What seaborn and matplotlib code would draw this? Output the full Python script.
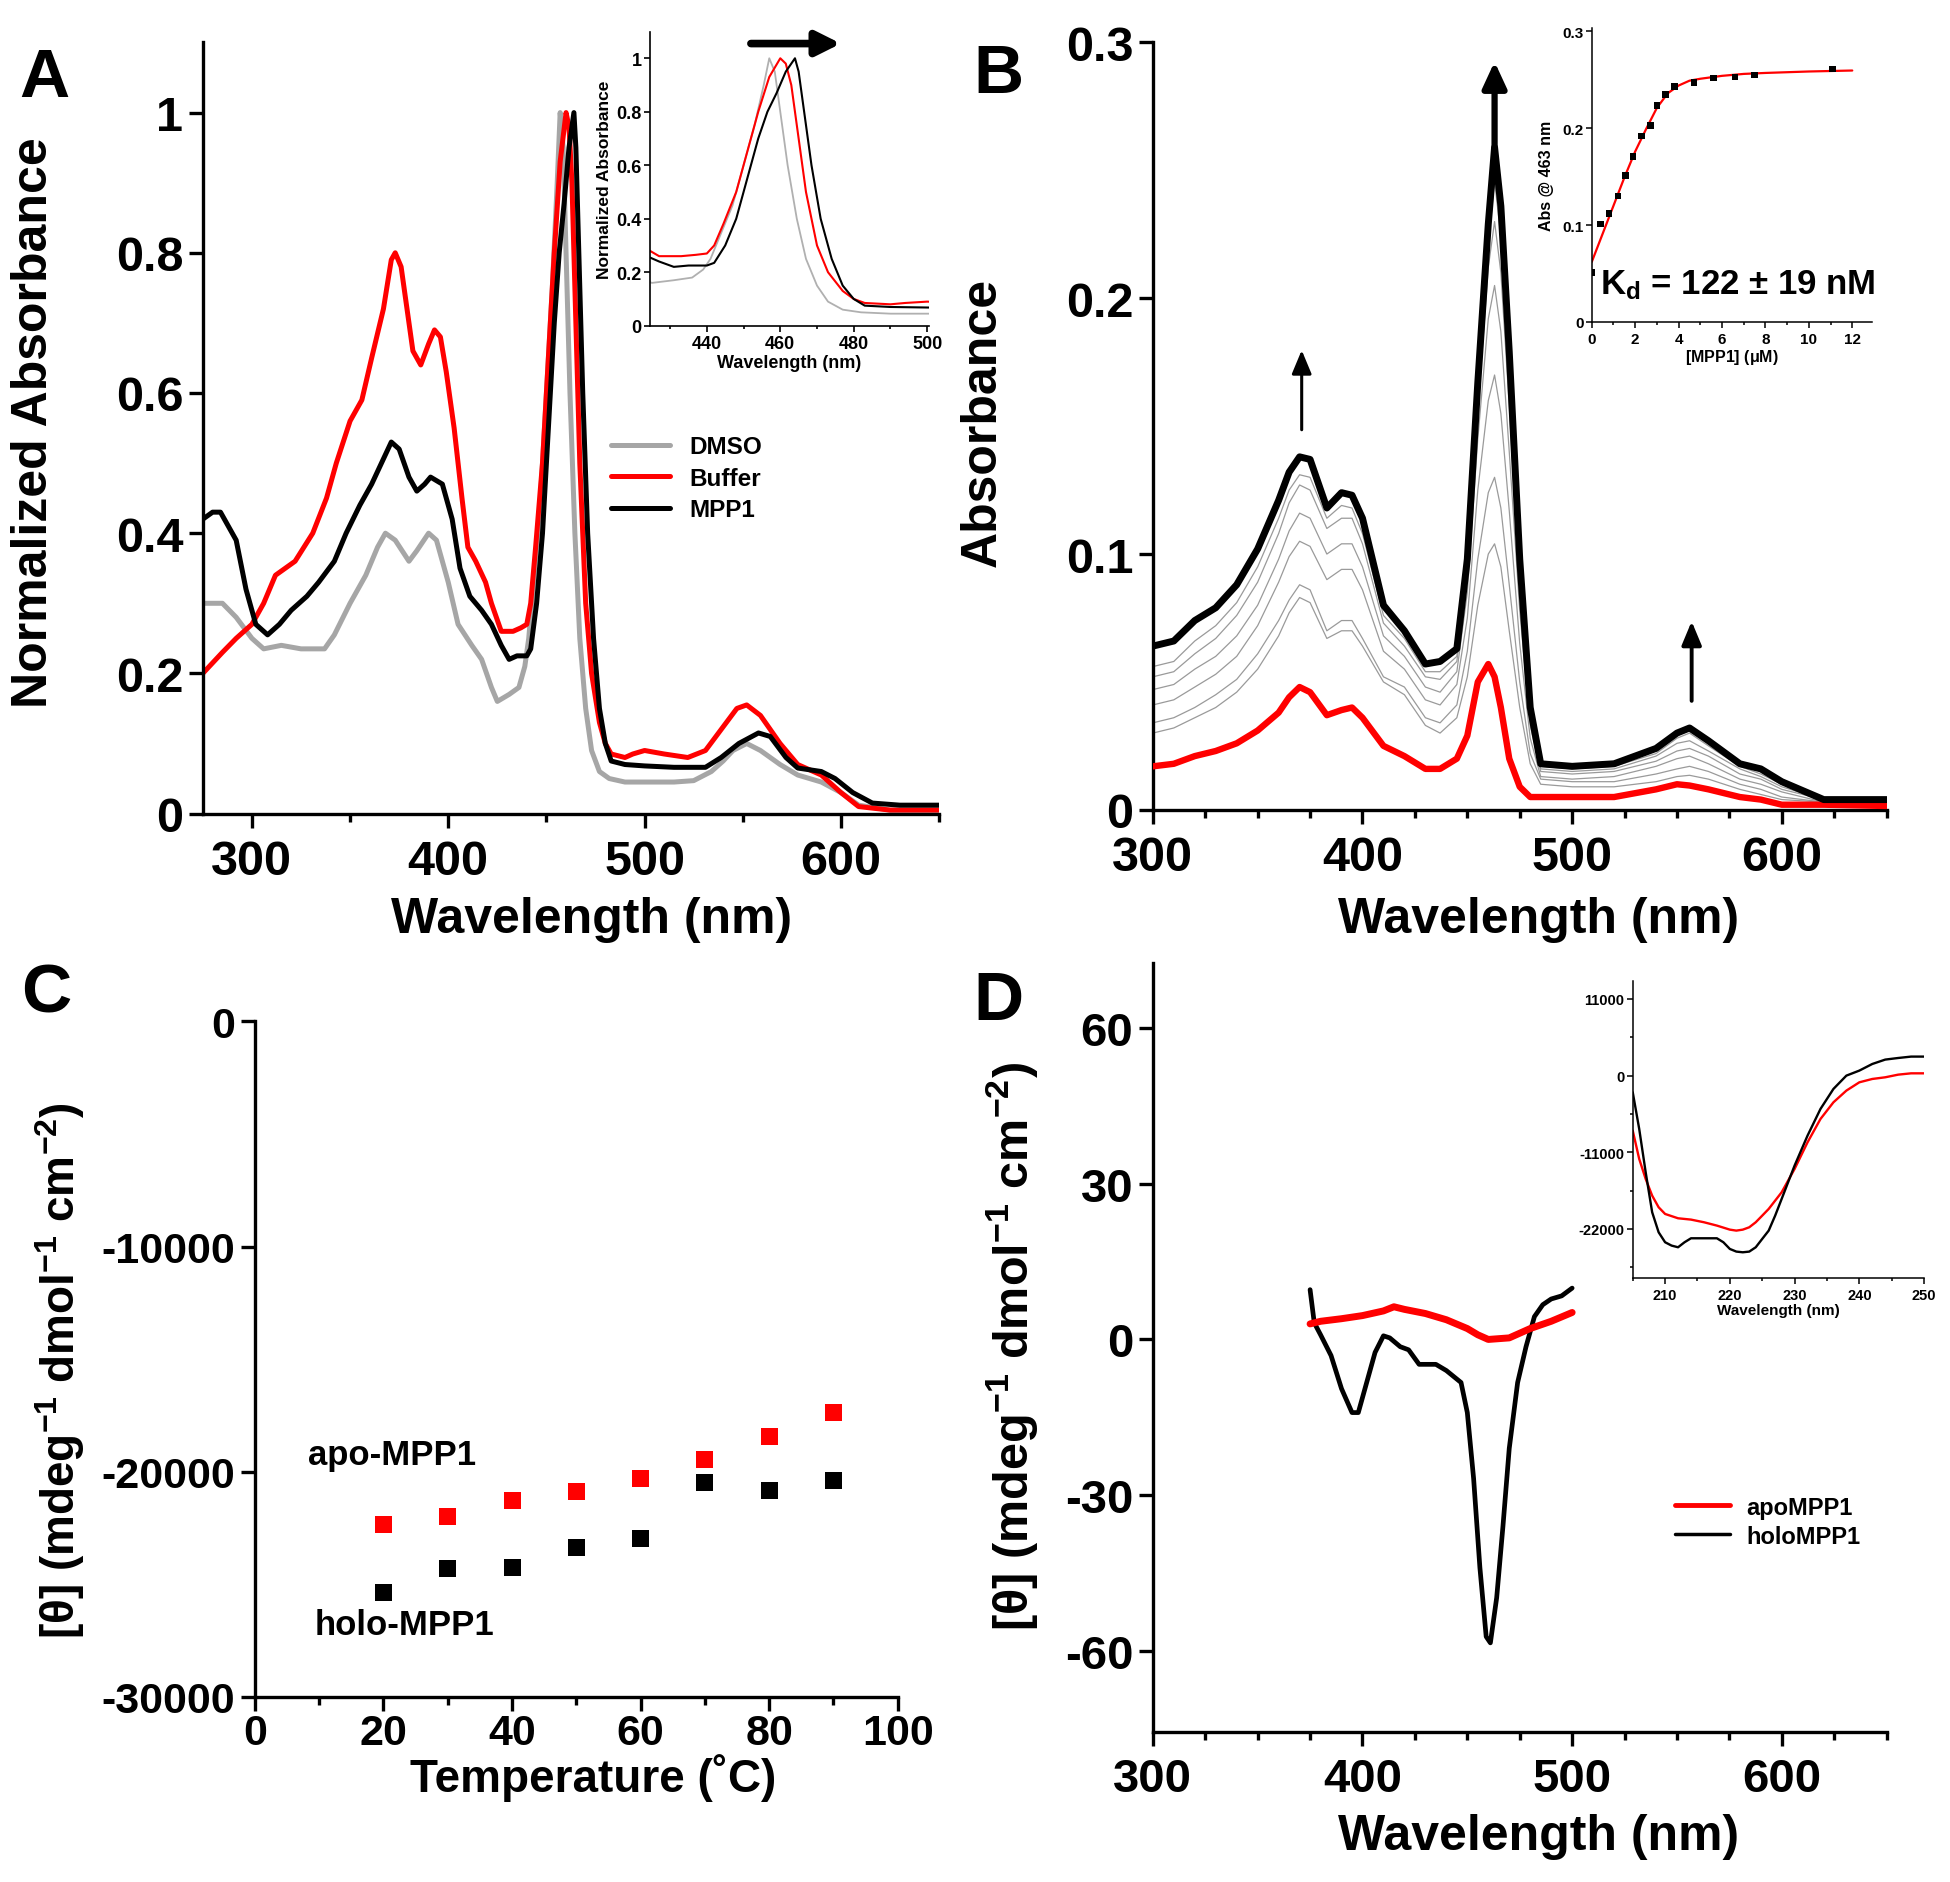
import numpy as np
import pandas as pd
import matplotlib
matplotlib.use('Agg')
import matplotlib.pyplot as plt
import seaborn as sns
from matplotlib.ticker import MultipleLocator, FixedLocator, FixedFormatter, NullLocator
from matplotlib.lines import Line2D

# ---------------- DATA ----------------
# Panel A: normalized absorbance spectra
A_wl_dmso = [275, 285, 292, 300, 306, 315, 325, 337, 342, 350, 358, 364, 368, 373, 380, 384, 390, 394, 400, 405,
             412, 417, 422, 425, 431, 436, 439, 441, 444, 447, 450, 453, 455.5, 457, 458.5, 460, 462, 464.5, 467, 470,
             473, 477, 482, 490, 500, 515, 525, 534, 540, 545, 552, 559, 565, 569, 578, 590, 600, 609, 625, 650]
A_dmso = [0.30, 0.30, 0.28, 0.25, 0.235, 0.24, 0.235, 0.235, 0.255, 0.30, 0.34, 0.38, 0.40, 0.39, 0.36, 0.375, 0.40, 0.39, 0.33, 0.27,
          0.24, 0.22, 0.18, 0.16, 0.17, 0.18, 0.21, 0.25, 0.35, 0.45, 0.60, 0.75, 0.90, 1.0, 0.95, 0.80, 0.60, 0.40, 0.25, 0.15,
          0.09, 0.06, 0.05, 0.045, 0.045, 0.045, 0.047, 0.06, 0.075, 0.09, 0.10, 0.09, 0.078, 0.07, 0.055, 0.045, 0.03, 0.012, 0.005, 0.005]

A_wl_buf = [275, 285, 292, 300, 306, 312, 322, 331, 338, 343, 350, 356, 361, 367, 371, 373, 376, 379, 382, 386,
            390, 393, 396, 399, 403, 407, 410, 414, 419, 422, 427, 433, 437, 440, 442, 444.5, 448, 451, 454, 457,
            460, 461.5, 463, 465, 467, 470, 473, 477, 480, 483, 490, 494, 500, 510, 522, 531, 539, 547, 552, 559,
            569, 578, 590, 600, 609, 625, 650]
A_buf = [0.20, 0.23, 0.25, 0.27, 0.30, 0.34, 0.36, 0.40, 0.45, 0.50, 0.56, 0.59, 0.65, 0.72, 0.79, 0.80, 0.78, 0.72, 0.66, 0.64,
         0.67, 0.69, 0.68, 0.63, 0.55, 0.45, 0.38, 0.36, 0.33, 0.30, 0.26, 0.26, 0.265, 0.27, 0.30, 0.38, 0.50, 0.65, 0.80, 0.93,
         1.0, 0.98, 0.90, 0.70, 0.50, 0.30, 0.20, 0.13, 0.10, 0.085, 0.08, 0.085, 0.09, 0.085, 0.08, 0.09, 0.12, 0.15, 0.155, 0.14,
         0.10, 0.07, 0.055, 0.03, 0.01, 0.005, 0.005]

A_wl_mpp = [275, 280, 284, 288, 292, 297, 302, 308, 314, 320, 328, 334, 342, 348, 355, 361, 366, 371, 375, 380,
            384, 388, 391, 394, 397, 402, 406, 411, 417, 422, 427, 431, 435, 440, 442, 445, 448, 451, 454, 456.5,
            459, 461.5, 464, 465, 466.5, 468.5, 471, 474, 477, 480, 483, 490, 500, 515, 531, 539, 548, 558, 564, 572,
            578, 590, 597, 606, 616, 630, 650]
A_mpp = [0.42, 0.43, 0.43, 0.41, 0.39, 0.32, 0.27, 0.255, 0.27, 0.29, 0.31, 0.33, 0.36, 0.40, 0.44, 0.47, 0.50, 0.53, 0.52, 0.48,
         0.46, 0.47, 0.48, 0.475, 0.47, 0.42, 0.35, 0.31, 0.29, 0.27, 0.24, 0.22, 0.225, 0.225, 0.235, 0.30, 0.40, 0.55, 0.70, 0.80,
         0.87, 0.95, 1.0, 0.95, 0.80, 0.60, 0.40, 0.25, 0.15, 0.10, 0.075, 0.07, 0.068, 0.066, 0.066, 0.08, 0.10, 0.115, 0.11, 0.08,
         0.065, 0.06, 0.05, 0.03, 0.015, 0.012, 0.012]

A_series = ["DMSO", "Buffer", "MPP1"]

# Panel B: titration spectra
B_wl = [300, 310, 320, 330, 340, 350, 360, 365, 370, 375, 383, 390, 395, 400, 410, 420, 430, 437, 445, 450,
        455, 460, 463, 466, 470, 475, 480, 485, 500, 520, 540, 550, 556, 565, 580, 590, 600, 620, 650]
B_black = [0.064, 0.066, 0.074, 0.079, 0.088, 0.102, 0.121, 0.132, 0.138, 0.137, 0.118, 0.124, 0.123, 0.114, 0.080, 0.070, 0.057, 0.058, 0.063, 0.098,
           0.167, 0.229, 0.259, 0.236, 0.179, 0.098, 0.040, 0.018, 0.017, 0.018, 0.024, 0.030, 0.032, 0.027, 0.018, 0.016, 0.011, 0.004, 0.004]
B_red = [0.017, 0.018, 0.021, 0.023, 0.026, 0.031, 0.038, 0.044, 0.048, 0.046, 0.037, 0.039, 0.040, 0.036, 0.025, 0.021, 0.016, 0.016, 0.020, 0.029,
         0.050, 0.057, 0.052, 0.040, 0.020, 0.009, 0.005, 0.005, 0.005, 0.005, 0.008, 0.010, 0.0095, 0.008, 0.005, 0.004, 0.002, 0.002, 0.0015]
B_grey1 = [0.030, 0.032, 0.036, 0.040, 0.046, 0.055, 0.068, 0.077, 0.083, 0.081, 0.067, 0.070, 0.070, 0.064, 0.050, 0.045, 0.033, 0.030, 0.036, 0.052,
           0.080, 0.100, 0.104, 0.095, 0.070, 0.040, 0.018, 0.010, 0.009, 0.009, 0.011, 0.013, 0.0135, 0.012, 0.008, 0.006, 0.004, 0.003, 0.002]
B_grey2 = [0.034, 0.036, 0.040, 0.045, 0.051, 0.061, 0.074, 0.082, 0.088, 0.086, 0.070, 0.074, 0.074, 0.067, 0.052, 0.048, 0.036, 0.034, 0.041, 0.062,
           0.098, 0.124, 0.130, 0.118, 0.088, 0.050, 0.022, 0.012, 0.011, 0.011, 0.014, 0.016, 0.017, 0.015, 0.010, 0.008, 0.005, 0.003, 0.002]
B_grey3 = [0.041, 0.043, 0.048, 0.053, 0.060, 0.072, 0.089, 0.099, 0.105, 0.103, 0.090, 0.094, 0.094, 0.086, 0.062, 0.055, 0.043, 0.041, 0.049, 0.075,
           0.125, 0.160, 0.170, 0.155, 0.117, 0.065, 0.028, 0.013, 0.012, 0.013, 0.017, 0.020, 0.021, 0.018, 0.012, 0.010, 0.007, 0.003, 0.003]
B_grey4 = [0.047, 0.049, 0.055, 0.060, 0.068, 0.080, 0.098, 0.109, 0.116, 0.114, 0.100, 0.104, 0.104, 0.095, 0.068, 0.060, 0.048, 0.046, 0.054, 0.085,
           0.145, 0.192, 0.205, 0.187, 0.140, 0.078, 0.033, 0.015, 0.014, 0.015, 0.019, 0.023, 0.024, 0.021, 0.014, 0.012, 0.008, 0.004, 0.003]
B_grey5 = [0.052, 0.054, 0.061, 0.067, 0.076, 0.089, 0.108, 0.120, 0.127, 0.125, 0.110, 0.114, 0.114, 0.104, 0.073, 0.064, 0.052, 0.051, 0.058, 0.091,
           0.156, 0.212, 0.230, 0.210, 0.158, 0.087, 0.036, 0.016, 0.015, 0.016, 0.021, 0.026, 0.027, 0.023, 0.016, 0.013, 0.009, 0.004, 0.003]
B_grey6 = [0.056, 0.058, 0.066, 0.072, 0.081, 0.095, 0.114, 0.125, 0.131, 0.130, 0.114, 0.119, 0.118, 0.108, 0.076, 0.067, 0.054, 0.054, 0.060, 0.094,
           0.161, 0.221, 0.246, 0.224, 0.170, 0.093, 0.038, 0.017, 0.016, 0.017, 0.022, 0.028, 0.030, 0.025, 0.017, 0.014, 0.010, 0.004, 0.003]

# Panel B inset: binding curve
B_conc = [0, 0.4, 0.8, 1.2, 1.55, 1.9, 2.3, 2.7, 3.0, 3.4, 3.8, 4.7, 5.6, 6.6, 7.5, 11.1]
B_abs463 = [0.051, 0.101, 0.112, 0.130, 0.151, 0.171, 0.192, 0.203, 0.2235, 0.2347, 0.243, 0.247, 0.252, 0.253, 0.255, 0.261]
B_fit_x = [0, 0.5, 1, 1.5, 2, 2.5, 3, 3.5, 4, 4.5, 5, 6, 7, 8, 10, 12]
B_fit_y = [0.062, 0.091, 0.120, 0.149, 0.176, 0.199, 0.221, 0.236, 0.244, 0.249, 0.251, 0.254, 0.256, 0.257, 0.2585, 0.2595]

# Panel C: thermal melt
C_temp = [20, 30, 40, 50, 60, 70, 80, 90]
C_apo = [-22330, -22000, -21270, -20880, -20300, -19450, -18450, -17360]
C_holo = [-25370, -24320, -24250, -23390, -22990, -20500, -20850, -20380]

# Panel D: visible CD
D_wl_apo = [375, 380, 390, 400, 410, 415, 420, 430, 440, 450, 455, 460, 470, 480, 490, 500]
D_apo = [3.0, 3.5, 4.0, 4.6, 5.5, 6.3, 5.8, 5.0, 3.8, 2.1, 0.9, 0.0, 0.3, 2.1, 3.5, 5.2]
D_wl_holo = [375, 377, 380, 385, 390, 395, 398, 402, 406, 410, 413, 418, 422, 427, 435, 440, 447, 450, 453, 456,
             459, 461, 464, 467, 470, 474, 478, 482, 486, 490, 495, 500]
D_holo = [9.6, 3.2, 0.9, -3.1, -9.5, -14.1, -14.1, -8.3, -2.5, 0.7, 0.3, -1.4, -2.0, -4.8, -4.8, -6.0, -8.3, -14.1, -26.8, -44.0,
          -57.3, -58.5, -49.8, -36.0, -21.0, -8.3, -1.4, 4.4, 6.7, 7.8, 8.4, 9.9]

# Panel D inset: far-UV CD
Di_wl_holo = [205, 206, 207, 208, 209, 210, 211, 212, 213, 214, 216, 218, 219, 220, 221, 222, 223, 224, 225, 226,
              227, 228, 229, 230, 232, 234, 236, 238, 240, 242, 244, 246, 248, 250]
Di_holo = [-2390, -7650, -13870, -19600, -22480, -23910, -24390, -24630, -23910, -23340, -23340, -23340, -23910, -24870, -25250, -25350, -25250, -24630, -23430, -22240,
           -20090, -17700, -15300, -12910, -8610, -4780, -1910, 0, 720, 1670, 2300, 2530, 2730, 2730]
Di_wl_apo = [205, 206, 207, 208, 209, 210, 212, 214, 216, 218, 220, 221, 222, 223, 224, 225, 226, 228, 230, 232,
             234, 236, 238, 240, 242, 244, 246, 248, 250]
Di_apo = [-7890, -11960, -14830, -17220, -18890, -19850, -20470, -20660, -21040, -21520, -22100, -22240, -22100, -21760, -21040, -20090, -19130, -16740, -13390, -9570,
          -6220, -3830, -2150, -960, -480, -240, 140, 330, 330]

# ---------------- STYLE ----------------
sns.set_theme(style='ticks')
plt.rcParams['font.family'] = ['Liberation Sans', 'DejaVu Sans']
plt.rcParams['font.weight'] = 'bold'
plt.rcParams['axes.unicode_minus'] = False
plt.rcParams['mathtext.default'] = 'regular'
plt.rcParams['text.color'] = 'black'
plt.rcParams['axes.labelcolor'] = 'black'
plt.rcParams['xtick.color'] = 'black'
plt.rcParams['ytick.color'] = 'black'

RED = '#FF0000'
GREY = '#A6A6A6'

fig = plt.figure(figsize=(19.5, 18.83), dpi=100)


def style(ax, lw=2.4, tl=10, mtl=6, fs=35, xpad=8, ypad=4):
    for s in ['top', 'right']:
        ax.spines[s].set_visible(False)
    for s in ['left', 'bottom']:
        ax.spines[s].set_linewidth(lw)
        ax.spines[s].set_color('black')
    ax.tick_params(which='major', direction='out', length=tl, width=lw, labelsize=fs, colors='black')
    ax.tick_params(which='minor', direction='out', length=mtl, width=lw, colors='black')
    ax.tick_params(axis='x', which='major', pad=xpad)
    ax.tick_params(axis='y', which='major', pad=ypad)
    ax.yaxis.set_minor_locator(NullLocator())
    ax.set_facecolor('none')
    ax.set_xlabel('')
    ax.set_ylabel('')


def line(ax, x, y, color, lw, z=2):
    sns.lineplot(x=x, y=y, ax=ax, color=color, linewidth=lw, sort=False, estimator=None,
                 legend=False, zorder=z, solid_joinstyle='round')


def set_labels(ax, axis, ticks, labels):
    if axis == 'x':
        ax.xaxis.set_major_locator(FixedLocator(ticks))
        ax.xaxis.set_major_formatter(FixedFormatter(labels))
    else:
        ax.yaxis.set_major_locator(FixedLocator(ticks))
        ax.yaxis.set_major_formatter(FixedFormatter(labels))


# ---------------- PANEL A ----------------
axA = fig.add_axes([0.104, 0.5674, 0.3776, 0.4095])
line(axA, A_wl_dmso, A_dmso, GREY, 3.6)
line(axA, A_wl_buf, A_buf, RED, 3.6)
line(axA, A_wl_mpp, A_mpp, 'black', 3.6)
axA.set_xlim(275, 650)
axA.set_ylim(0, 1.1)
style(axA)
set_labels(axA, 'x', [300, 400, 500, 600], ['300', '400', '500', '600'])
axA.xaxis.set_minor_locator(MultipleLocator(50))
set_labels(axA, 'y', [0, 0.2, 0.4, 0.6, 0.8, 1.0], ['0', '0.2', '0.4', '0.6', '0.8', '1'])
handles = [Line2D([], [], color=GREY, lw=3.6), Line2D([], [], color=RED, lw=3.6), Line2D([], [], color='black', lw=3.6)]
axA.legend(handles, A_series, loc='center left', bbox_to_anchor=(0.555, 0.435), frameon=False,
           fontsize=17.5, handlelength=2.4, handletextpad=0.8, labelspacing=0.35, borderpad=0, borderaxespad=0)

# inset A
axAi = fig.add_axes([0.3333, 0.8265, 0.1431, 0.1558])
line(axAi, A_wl_dmso, A_dmso, '#B0B0B0', 1.3)
line(axAi, A_wl_buf, A_buf, RED, 1.5)
line(axAi, A_wl_mpp, A_mpp, 'black', 1.5)
axAi.set_xlim(424.5, 500.5)
axAi.set_ylim(0, 1.097)
style(axAi, lw=1.2, tl=4, mtl=2.5, fs=13, xpad=3, ypad=2)
set_labels(axAi, 'x', [440, 460, 480, 500], ['440', '460', '480', '500'])
axAi.xaxis.set_minor_locator(MultipleLocator(10))
set_labels(axAi, 'y', [0, 0.2, 0.4, 0.6, 0.8, 1.0], ['0', '0.2', '0.4', '0.6', '0.8', '1'])
axAi.set_xlabel('Wavelength (nm)', fontsize=13, fontweight='bold', labelpad=1)
axAi.set_ylabel('Normalized Absorbance', fontsize=12.5, fontweight='bold', labelpad=3)
axAi.annotate('', xy=(476.5, 1.055), xytext=(452, 1.055), annotation_clip=False,
              arrowprops=dict(arrowstyle='-|>,head_length=1.2,head_width=0.6', lw=5.5, color='black',
                              shrinkA=0, shrinkB=0))

# ---------------- PANEL B ----------------
axB = fig.add_axes([0.5912, 0.5694, 0.3763, 0.4075])
for g in [B_grey1, B_grey2, B_grey3, B_grey4, B_grey5, B_grey6]:
    line(axB, B_wl, g, '#9A9A9A', 0.9, z=1)
line(axB, B_wl, B_red, RED, 4.6, z=3)
line(axB, B_wl, B_black, 'black', 5.0, z=4)
axB.set_xlim(300, 650)
axB.set_ylim(0, 0.3)
style(axB)
set_labels(axB, 'x', [300, 400, 500, 600], ['300', '400', '500', '600'])
axB.xaxis.set_minor_locator(MultipleLocator(25))
set_labels(axB, 'y', [0, 0.1, 0.2, 0.3], ['0', '0.1', '0.2', '0.3'])
for (xa, y0, y1, lw, hl, hw) in [(371, 0.1486, 0.1797, 2.2, 1.2, 0.5), (463, 0.2560, 0.2925, 4.5, 1.3, 0.6),
                                 (557, 0.0426, 0.0737, 2.8, 1.2, 0.5)]:
    axB.annotate('', xy=(xa, y1), xytext=(xa, y0), annotation_clip=False,
                 arrowprops=dict(arrowstyle=f'-|>,head_length={hl},head_width={hw}', lw=lw, color='black',
                                 shrinkA=0, shrinkB=0), zorder=6)

# inset B
axBi = fig.add_axes([0.8163, 0.8285, 0.1436, 0.1559])
line(axBi, B_fit_x, B_fit_y, RED, 1.6)
sns.scatterplot(x=B_conc, y=B_abs463, ax=axBi, marker='s', s=22, color='black', edgecolor='none', zorder=3, legend=False)
axBi.set_xlim(0, 12.9)
axBi.set_ylim(0, 0.303)
style(axBi, lw=1.1, tl=4, mtl=2.5, fs=11, xpad=3, ypad=2)
set_labels(axBi, 'x', [0, 2, 4, 6, 8, 10, 12], ['0', '2', '4', '6', '8', '10', '12'])
axBi.xaxis.set_minor_locator(MultipleLocator(1))
set_labels(axBi, 'y', [0, 0.1, 0.2, 0.3], ['0', '0.1', '0.2', '0.3'])
axBi.set_xlabel('[MPP1] ($\\mu$M)', fontsize=11.5, fontweight='bold', labelpad=1)
axBi.set_ylabel('Abs @ 463 nm', fontsize=11.5, fontweight='bold', labelpad=6)
axBi.text(0.03, 0.13, 'K$_d$ = 122 ± 19 nM', transform=axBi.transAxes, fontsize=25, fontweight='bold',
          ha='left', va='center')

# ---------------- PANEL C ----------------
axC = fig.add_axes([0.1307, 0.0984, 0.3297, 0.3586])
sns.scatterplot(x=C_temp, y=C_apo, ax=axC, marker='s', s=150, color=RED, edgecolor='none', legend=False, clip_on=False)
sns.scatterplot(x=C_temp, y=C_holo, ax=axC, marker='s', s=150, color='black', edgecolor='none', legend=False, clip_on=False)
axC.set_xlim(0, 100)
axC.set_ylim(-30000, 0)
style(axC, fs=31, xpad=2)
set_labels(axC, 'x', [0, 20, 40, 60, 80, 100], ['0', '20', '40', '60', '80', '100'])
axC.xaxis.set_minor_locator(MultipleLocator(10))
set_labels(axC, 'y', [-30000, -20000, -10000, 0], ['-30000', '-20000', '-10000', '0'])
axC.text(8.3, -19250, 'apo-MPP1', fontsize=25, fontweight='bold', ha='left', va='center')
axC.text(9.3, -26800, 'holo-MPP1', fontsize=25, fontweight='bold', ha='left', va='center')

# ---------------- PANEL D ----------------
axD = fig.add_axes([0.5912, 0.0799, 0.3763, 0.4082])
line(axD, D_wl_holo, D_holo, 'black', 3.4)
line(axD, D_wl_apo, D_apo, RED, 5.0)
axD.set_xlim(300, 650)
axD.set_ylim(-75.6, 72.6)
style(axD, fs=34)
set_labels(axD, 'x', [300, 400, 500, 600], ['300', '400', '500', '600'])
axD.xaxis.set_minor_locator(MultipleLocator(25))
set_labels(axD, 'y', [-60, -30, 0, 30, 60], ['-60', '-30', '0', '30', '60'])
hD = [Line2D([], [], color=RED, lw=3.5), Line2D([], [], color='black', lw=2.5)]
axD.legend(hD, ['apoMPP1', 'holoMPP1'], loc='center left', bbox_to_anchor=(0.712, 0.273), frameon=False,
           fontsize=17, handlelength=2.3, handletextpad=0.7, labelspacing=0.25, borderpad=0, borderaxespad=0)

# inset D
axDi = fig.add_axes([0.8373, 0.3208, 0.1494, 0.1577])
line(axDi, Di_wl_apo, Di_apo, RED, 1.7)
line(axDi, Di_wl_holo, Di_holo, 'black', 1.7)
axDi.set_xlim(205, 250)
axDi.set_ylim(-29030, 13580)
style(axDi, lw=1.1, tl=4, mtl=2.5, fs=10.5, xpad=3, ypad=2)
set_labels(axDi, 'x', [210, 220, 230, 240, 250], ['210', '220', '230', '240', '250'])
axDi.xaxis.set_minor_locator(MultipleLocator(5))
set_labels(axDi, 'y', [-22000, -11000, 0, 11000], ['-22000', '-11000', '0', '11000'])
axDi.yaxis.set_minor_locator(MultipleLocator(5500))
axDi.tick_params(axis='y', which='minor', length=2.5, width=1.1)
axDi.set_xlabel('Wavelength (nm)', fontsize=11, fontweight='bold', labelpad=1)

# ---------------- LABELS ----------------
fig.text(0.3036, 0.5112, 'Wavelength (nm)', fontsize=36, fontweight='bold', ha='center', va='center')
fig.text(0.0172, 0.7754, 'Normalized Absorbance', fontsize=36, fontweight='bold', ha='center', va='center', rotation=90)
fig.text(0.789, 0.5112, 'Wavelength (nm)', fontsize=36, fontweight='bold', ha='center', va='center')
fig.text(0.5038, 0.7754, 'Absorbance', fontsize=36, fontweight='bold', ha='center', va='center', rotation=90)
fig.text(0.3042, 0.0555, 'Temperature (˚C)', fontsize=33, fontweight='bold', ha='center', va='center')
fig.text(0.031, 0.272, '[θ] (mdeg$^{-1}$ dmol$^{-1}$ cm$^{-2}$)', fontsize=33, fontweight='bold',
         ha='center', va='center', rotation=90)
fig.text(0.789, 0.0244, 'Wavelength (nm)', fontsize=36, fontweight='bold', ha='center', va='center')
fig.text(0.519, 0.285, '[θ] (mdeg$^{-1}$ dmol$^{-1}$ cm$^{-2}$)', fontsize=35, fontweight='bold',
         ha='center', va='center', rotation=90)

for lab, (x, y) in zip(['A', 'B', 'C', 'D'], [(0.023, 0.958), (0.512, 0.960), (0.0236, 0.4716), (0.512, 0.468)]):
    fig.text(x, y, lab, fontsize=50, fontweight='bold', ha='center', va='center')

fig.savefig('out.png', dpi=100)
